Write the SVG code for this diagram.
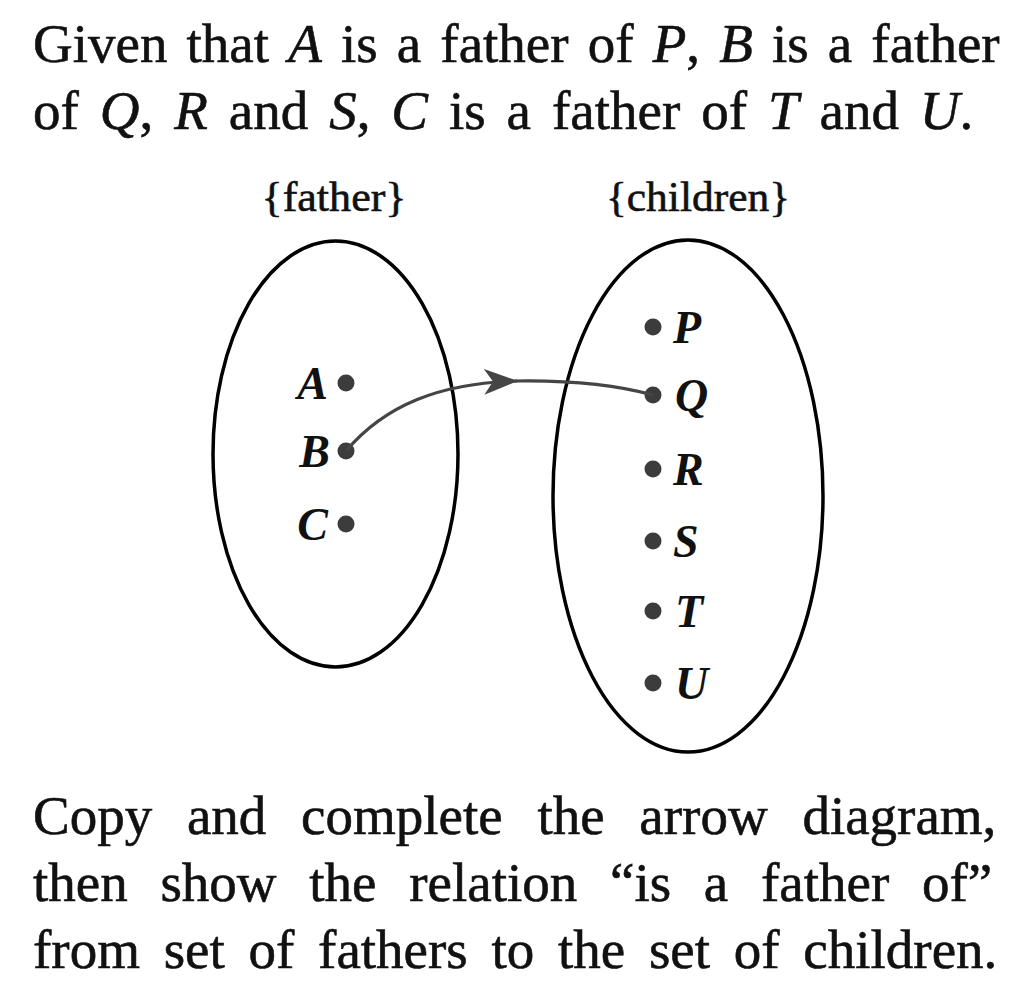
<svg xmlns="http://www.w3.org/2000/svg" width="1031" height="995" viewBox="0 0 1031 995">
<style>
.t{font-family:"Liberation Serif","Times New Roman",serif;font-size:55px;fill:#111;stroke:#111;stroke-width:0.6}
.i{font-style:italic}
.h{font-family:"Liberation Serif","Times New Roman",serif;font-size:43px;fill:#111;stroke:#111;stroke-width:0.6}
.lab{font-family:"Liberation Serif","Times New Roman",serif;font-size:46px;font-style:italic;font-weight:bold;fill:#111}
.set{fill:none;stroke:#000;stroke-width:3.5}
.dot{fill:#3c3c3c}
.arc{fill:none;stroke:#454545;stroke-width:3.2}
</style>
<defs>
<marker id="ah" markerUnits="userSpaceOnUse" viewBox="0 0 34 26" refX="33" refY="13" markerWidth="34" markerHeight="26" orient="auto">
<path d="M0,0 L34,13 L0,26 L9,13 Z" fill="#454545"/>
</marker>
</defs>
<rect width="1031" height="995" fill="#fff"/>
<g id="question">
<text class="t" x="33" y="62" style="word-spacing:5.4px">Given that <tspan class="i">A</tspan> is a father of <tspan class="i">P</tspan>, <tspan class="i">B</tspan> is a father</text>
<text class="t" x="33" y="129" style="word-spacing:7.2px">of <tspan class="i">Q</tspan>, <tspan class="i">R</tspan> and <tspan class="i">S</tspan>, <tspan class="i">C</tspan> is a father of <tspan class="i">T</tspan> and <tspan class="i">U</tspan>.</text>
</g>
<g id="father-set">
<text class="h" x="334" y="211" text-anchor="middle" textLength="145" lengthAdjust="spacingAndGlyphs">{father}</text>
<ellipse class="set" cx="335.5" cy="454" rx="122.5" ry="213"/>
</g>
<g id="children-set">
<text class="h" x="698" y="211" text-anchor="middle" textLength="184" lengthAdjust="spacingAndGlyphs">{children}</text>
<ellipse class="set" cx="688" cy="496" rx="135" ry="256"/>
</g>
<g id="node-A"><circle class="dot" cx="346" cy="383" r="8.5"/><text class="lab" x="328" y="399" text-anchor="end">A</text></g>
<g id="node-B"><circle class="dot" cx="346" cy="451" r="8.5"/><text class="lab" x="330" y="467" text-anchor="end">B</text></g>
<g id="node-C"><circle class="dot" cx="346" cy="524" r="8.5"/><text class="lab" x="328" y="540" text-anchor="end">C</text></g>
<g id="node-P"><circle class="dot" cx="653" cy="327" r="8.5"/><text class="lab" x="673" y="343">P</text></g>
<g id="node-Q"><circle class="dot" cx="653" cy="395" r="8.5"/><text class="lab" x="675" y="411">Q</text></g>
<g id="node-R"><circle class="dot" cx="653" cy="469" r="8.5"/><text class="lab" x="673" y="485">R</text></g>
<g id="node-S"><circle class="dot" cx="653" cy="541" r="8.5"/><text class="lab" x="673" y="557">S</text></g>
<g id="node-T"><circle class="dot" cx="653" cy="611" r="8.5"/><text class="lab" x="675" y="627">T</text></g>
<g id="node-U"><circle class="dot" cx="653" cy="683" r="8.5"/><text class="lab" x="675" y="699">U</text></g>
<g id="connectors">
<path class="arc" d="M346,451 C385,405 440,383 517,381" marker-end="url(#ah)"/>
<path class="arc" d="M515,381 C575,380 620,386 653,395"/>
</g>
<g id="instruction">
<text class="t" x="33" y="834" style="word-spacing:21px">Copy and complete the arrow diagram,</text>
<text class="t" x="33" y="901" style="word-spacing:19px">then show the relation “is a father of”</text>
<text class="t" x="33" y="968" style="word-spacing:10px">from set of fathers to the set of children.</text>
</g>
</svg>
